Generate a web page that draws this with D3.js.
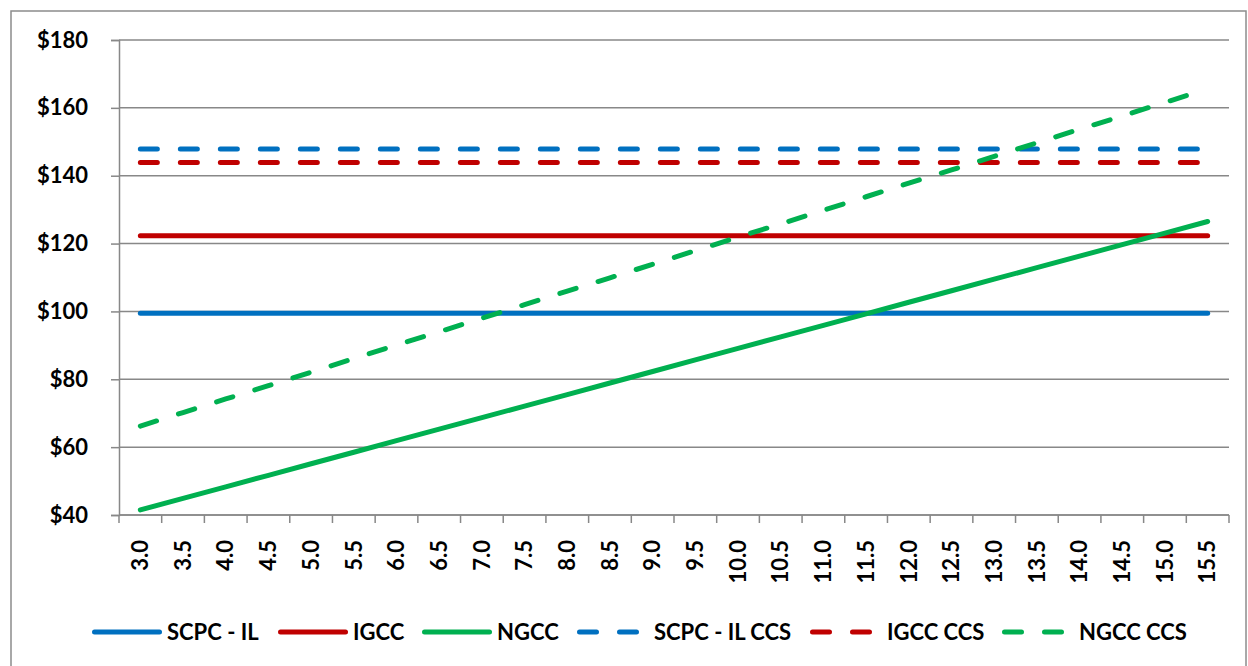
<!DOCTYPE html>
<html><head><meta charset="utf-8">
<script src="https://d3js.org/d3.v7.min.js"></script>
<style>body{margin:0;background:#fff}svg{display:block}text{font-family:Lato,"Open Sans",sans-serif;font-weight:bold;fill:#000}</style>
</head><body>
<svg id="c" width="1248" height="666"></svg>
<script>
const categories = ["3.0","3.5","4.0","4.5","5.0","5.5","6.0","6.5","7.0","7.5","8.0","8.5","9.0","9.5","10.0","10.5","11.0","11.5","12.0","12.5","13.0","13.5","14.0","14.5","15.0","15.5"];
const yTicks = [40,60,80,100,120,140,160,180];
const scpcIL    = [99.5,99.5,99.5,99.5,99.5,99.5,99.5,99.5,99.5,99.5,99.5,99.5,99.5,99.5,99.5,99.5,99.5,99.5,99.5,99.5,99.5,99.5,99.5,99.5,99.5,99.5];
const igcc      = [122.3,122.3,122.3,122.3,122.3,122.3,122.3,122.3,122.3,122.3,122.3,122.3,122.3,122.3,122.3,122.3,122.3,122.3,122.3,122.3,122.3,122.3,122.3,122.3,122.3,122.3];
const ngcc      = [41.5,44.9,48.3,51.7,55.1,58.5,61.9,65.3,68.7,72.1,75.5,78.9,82.3,85.7,89.1,92.5,95.9,99.3,102.7,106.1,109.5,112.9,116.3,119.7,123.1,126.5];
const scpcILccs = [147.9,147.9,147.9,147.9,147.9,147.9,147.9,147.9,147.9,147.9,147.9,147.9,147.9,147.9,147.9,147.9,147.9,147.9,147.9,147.9,147.9,147.9,147.9,147.9,147.9,147.9];
const igccCcs   = [143.9,143.9,143.9,143.9,143.9,143.9,143.9,143.9,143.9,143.9,143.9,143.9,143.9,143.9,143.9,143.9,143.9,143.9,143.9,143.9,143.9,143.9,143.9,143.9,143.9,143.9];
const ngccCcs   = [66.2,70.2,74.2,78.1,82.1,86.1,90.1,94.0,98.0,102.0,106.0,109.9,113.9,117.9,121.9,125.8,129.8,133.8,137.8,141.7,145.7,149.7,153.7,157.6,161.6,165.6];
const seriesNames = ["SCPC - IL","IGCC","NGCC","SCPC - IL CCS","IGCC CCS","NGCC CCS"];

const series = [
  {name:seriesNames[0], values:scpcIL,    color:"#0070C0", dash:false},
  {name:seriesNames[1], values:igcc,      color:"#C00000", dash:false},
  {name:seriesNames[2], values:ngcc,      color:"#00B050", dash:false},
  {name:seriesNames[3], values:scpcILccs, color:"#0070C0", dash:true},
  {name:seriesNames[4], values:igccCcs,   color:"#C00000", dash:true},
  {name:seriesNames[5], values:ngccCcs,   color:"#00B050", dash:true}
];

const svg = d3.select("#c");
const L=119, R=1229, T=40, B=515;
const grey="#888888";

svg.append("rect").attr("x",11).attr("y",11).attr("width",1235).attr("height",700)
  .attr("fill","none").attr("stroke","#8c8c8c").attr("stroke-width",1.5);

const x = d3.scaleBand().domain(categories).range([L,R]).paddingInner(0).paddingOuter(0);
const y = d3.scaleLinear().domain([40,180]).range([B,T]);
const cx = c => x(c)+x.bandwidth()/2;

// gridlines
svg.append("g").selectAll("line").data(yTicks).join("line")
  .attr("x1",L).attr("x2",R).attr("y1",d=>y(d)).attr("y2",d=>y(d))
  .attr("stroke",grey).attr("stroke-width",1.5);

// y axis
const ya = svg.append("g").attr("transform",`translate(${L},0)`)
  .call(d3.axisLeft(y).tickValues(yTicks).tickSize(8).tickPadding(23).tickFormat(d=>"$"+d));
ya.select(".domain").attr("stroke",grey).attr("stroke-width",1.5);
ya.selectAll(".tick line").attr("stroke",grey).attr("stroke-width",1.5);
ya.selectAll("text").style("font-size","22px").style("font-family","Lato").style("font-weight","bold").attr("fill","#000");

// x axis
const xa = svg.append("g").attr("transform",`translate(0,${B})`)
  .call(d3.axisBottom(x).tickSize(0).tickPadding(0));
xa.select(".domain").remove();
xa.selectAll(".tick text").attr("transform","translate(0,25) rotate(-90)")
  .attr("text-anchor","end").attr("dy","0.35em").attr("x",0).attr("y",0)
  .style("font-size","22px").style("font-family","Lato").style("font-weight","bold").attr("fill","#000");
svg.append("line").attr("x1",L).attr("x2",R).attr("y1",B).attr("y2",B).attr("stroke",grey).attr("stroke-width",1.5);
const bounds = categories.map(c=>x(c)).concat([R]);
svg.append("g").selectAll("line").data(bounds).join("line")
  .attr("x1",d=>d).attr("x2",d=>d).attr("y1",B).attr("y2",B+8)
  .attr("stroke",grey).attr("stroke-width",1.5);

// lines
const line = d3.line().x((d,i)=>cx(categories[i])).y(d=>y(d));
svg.append("g").selectAll("path").data(series).join("path")
  .attr("d",d=>line(d.values)).attr("fill","none")
  .attr("stroke",d=>d.color).attr("stroke-width",5)
  .attr("stroke-linecap","round").attr("stroke-linejoin","round")
  .attr("stroke-dasharray",d=>d.dash?"17 23":null);

// legend
const legX = [92,278,422,577,810,1002];
const legY = 632;
const lg = svg.append("g").selectAll("g").data(series).join("g")
  .attr("transform",(d,i)=>`translate(${legX[i]},${legY})`);
lg.append("line").attr("x1",2.5).attr("x2",d=>d.dash?59.5:67.5).attr("y1",0).attr("y2",0)
  .attr("stroke",d=>d.color).attr("stroke-width",5).attr("stroke-linecap","round")
  .attr("stroke-dasharray",d=>d.dash?"17 23":null);
lg.append("text").attr("x",d=>d.dash?77:75).attr("y",0).attr("dy","0.35em")
  .style("font-size","22px").text(d=>d.name);
</script>
</body></html>
